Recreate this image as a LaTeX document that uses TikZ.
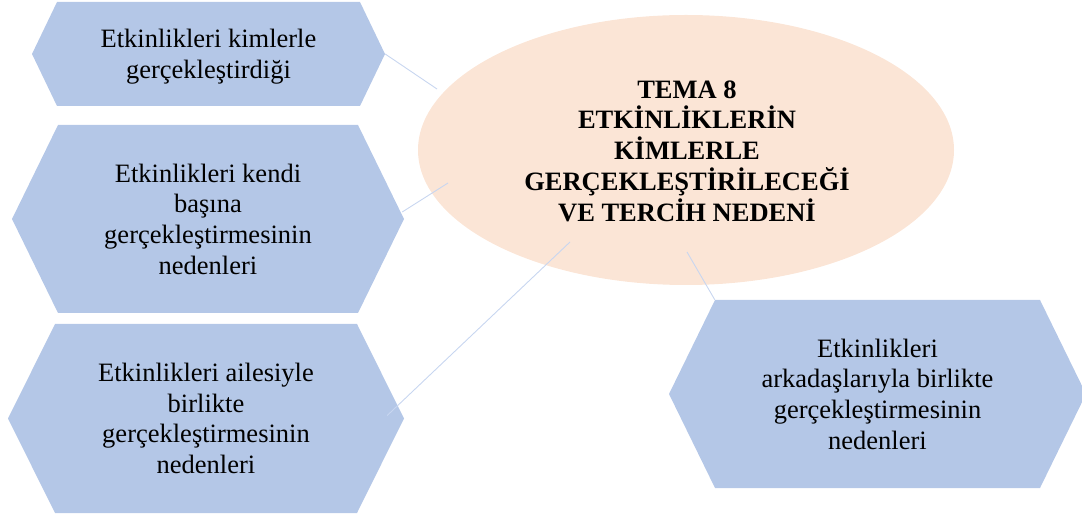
\documentclass[tikz,border=0pt]{standalone}
\usepackage{fontspec}
\setmainfont{Liberation Serif}
\usetikzlibrary{shapes.geometric,calc}
\definecolor{hexblue}{RGB}{180,199,231}
\definecolor{peach}{RGB}{251,229,214}
\definecolor{connblue}{RGB}{200,214,240}
\tikzset{
  hexbox/.style={rectangle, inner sep=0pt, align=center,
    font=\fontsize{26.5}{30.7}\selectfont, text=black,
    path picture={\fill[hexblue] (path picture bounding box.west)
      -- ([xshift=#1]path picture bounding box.north west)
      -- ([xshift=-#1]path picture bounding box.north east)
      -- (path picture bounding box.east)
      -- ([xshift=-#1]path picture bounding box.south east)
      -- ([xshift=#1]path picture bounding box.south west) -- cycle;}},
  centre/.style={ellipse, fill=peach, inner sep=0pt},
  centretext/.style={align=center, inner sep=0pt,
    font=\bfseries\fontsize{26.5}{30.7}\selectfont},
  conn/.style={draw=connblue, line width=0.9pt}
}
\begin{document}
\begin{tikzpicture}[x=1pt,y=-1pt]
\useasboundingbox (0,0) rectangle (1082,518);
% central ellipse
\node[centre, minimum width=536pt, minimum height=270pt] (e) at (686,150) {};
\node[centretext] (et) at (687,151) {TEMA 8\\ETKİNLİKLERİN\\KİMLERLE\\GERÇEKLEŞTİRİLECEĞİ\\VE TERCİH NEDENİ};
% hexagons
\node[hexbox=25pt, minimum width=353pt, minimum height=104pt, text depth=-3pt] (h1) at (208.5,54)
  {Etkinlikleri kimlerle\\gerçekleştirdiği};
\node[hexbox=46pt, minimum width=392pt, minimum height=188pt] (h2) at (208,219)
  {Etkinlikleri kendi\\başına\\gerçekleştirmesinin\\nedenleri};
\node[hexbox=47pt, minimum width=396pt, minimum height=189pt] (h3) at (206,418.5)
  {Etkinlikleri ailesiyle\\birlikte\\gerçekleştirmesinin\\nedenleri};
\node[hexbox=46pt, minimum width=417pt, minimum height=188pt] (h4) at (877.5,394)
  {Etkinlikleri\\arkadaşlarıyla birlikte\\gerçekleştirmesinin\\nedenleri};
% connector ends
\coordinate (c1) at (437,89);
\coordinate (c2) at (448,183);
\coordinate (c3) at (570,242);
\coordinate (c4) at (687,252);
\draw[conn] (h1.east) -- (c1);
\draw[conn] ([shift={(-2,-7)}]h2.east) -- (c2);
\draw[conn] ([shift={(-17,-3)}]h3.east) -- (c3);
\draw[conn] ([shift={(46,0)}]h4.north west) -- (c4);
\end{tikzpicture}
\end{document}
